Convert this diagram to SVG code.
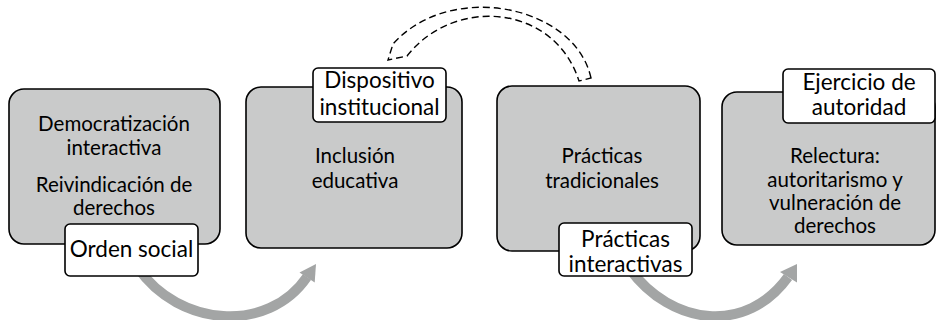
<svg xmlns="http://www.w3.org/2000/svg" width="937" height="320" viewBox="0 0 937 320">
<style>
.box{fill:#c9caca;stroke:#000;stroke-width:1.6}
.lbl{fill:#fff;stroke:#000;stroke-width:1.6}
.t{font-family:Lato,"Liberation Sans",sans-serif;font-size:20.5px;fill:#000;text-anchor:middle}
.tl{font-family:Lato,"Liberation Sans",sans-serif;font-size:22.5px;fill:#000;text-anchor:middle}
.arc{fill:none;stroke:#a3a5a5;stroke-width:10}
.head{fill:#a3a5a5}
.dash{fill:#fff;stroke:#000;stroke-width:1.4;stroke-dasharray:7 4}
</style>
<g id="connectors">
<path class="arc" d="M138 268 C179 327 268 334 307 277"/>
<polygon class="head" points="316,264 299.5,272.5 314.7,282.5"/>
<path class="arc" d="M629 268 C672 327 747 334 788 277"/>
<polygon class="head" points="797,264 780,272 797,282.5"/>
<path class="dash" d="M591 78 C575 5 450 -20 393 44 L388 60 L407 56 C455 -5 555 5 579 81 Z"/>
</g>
<g id="node1">
<rect class="box" x="9" y="89" width="211" height="155" rx="15"/>
<text class="t" x="114" y="131">Democratización</text>
<text class="t" x="114" y="155">interactiva</text>
<text class="t" x="114" y="192">Reivindicación de</text>
<text class="t" x="114" y="215">derechos</text>
</g>
<g id="node1-label">
<rect class="lbl" x="65" y="224" width="133" height="52" rx="5"/>
<text class="tl" x="131.5" y="257">Orden social</text>
</g>
<g id="node2">
<rect class="box" x="246" y="87" width="216" height="161" rx="15"/>
<text class="t" x="355" y="163">Inclusión</text>
<text class="t" x="355" y="188">educativa</text>
</g>
<g id="node2-label">
<rect class="lbl" x="313" y="68" width="133" height="54" rx="5"/>
<text class="tl" x="379.5" y="88">Dispositivo</text>
<text class="tl" x="379.5" y="115">institucional</text>
</g>
<g id="node3">
<rect class="box" x="497" y="86" width="203" height="165" rx="15"/>
<text class="t" x="602" y="163">Prácticas</text>
<text class="t" x="602" y="188">tradicionales</text>
</g>
<g id="node3-label">
<rect class="lbl" x="559" y="223" width="133" height="53" rx="5"/>
<text class="tl" x="625.5" y="247">Prácticas</text>
<text class="tl" x="625.5" y="272">interactivas</text>
</g>
<g id="node4">
<rect class="box" x="722" y="92" width="213" height="153" rx="15"/>
<text class="t" x="835" y="163">Relectura:</text>
<text class="t" x="835" y="187">autoritarismo y</text>
<text class="t" x="835" y="210">vulneración de</text>
<text class="t" x="835" y="233">derechos</text>
</g>
<g id="node4-label">
<rect class="lbl" x="783" y="69" width="152" height="54" rx="5"/>
<text class="tl" x="859" y="90">Ejercicio de</text>
<text class="tl" x="859" y="115">autoridad</text>
</g>
</svg>
